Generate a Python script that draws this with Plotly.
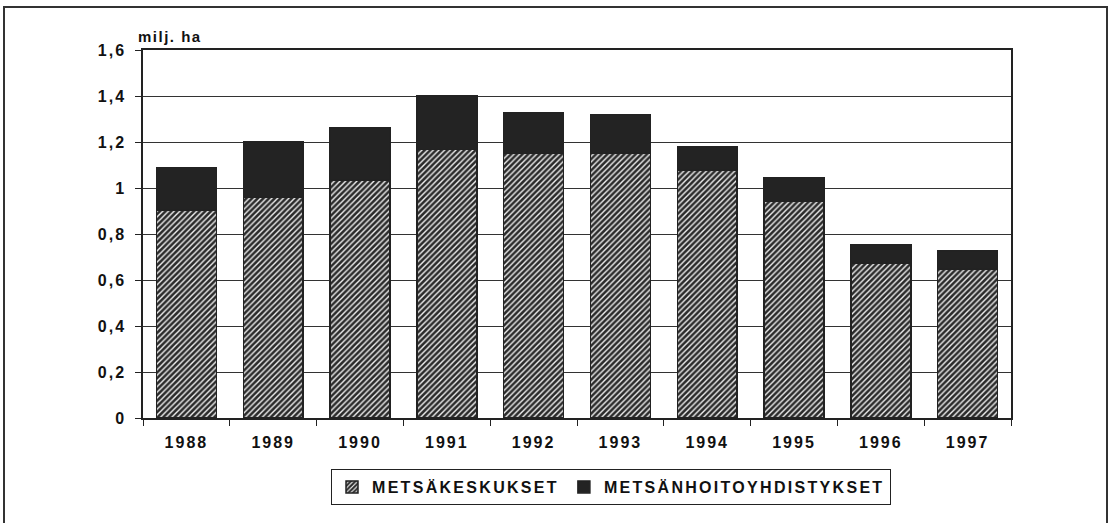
import plotly.graph_objects as go

years = ["1988", "1989", "1990", "1991", "1992", "1993", "1994", "1995", "1996", "1997"]
metsakeskukset = [0.905, 0.96, 1.035, 1.168, 1.151, 1.153, 1.078, 0.943, 0.674, 0.648]
metsanhoitoyhdistykset = [0.185, 0.24, 0.225, 0.232, 0.176, 0.164, 0.10, 0.10, 0.078, 0.078]
series_names = ["METSÄKESKUKSET", "METSÄNHOITOYHDISTYKSET"]
y_ticks = [0, 0.2, 0.4, 0.6, 0.8, 1.0, 1.2, 1.4, 1.6]

FONT = "Liberation Sans, Arial, sans-serif"

fig = go.Figure()
fig.add_trace(go.Bar(
    x=years, y=metsakeskukset, name=series_names[0],
    marker=dict(
        color="#2b2b2b",
        line=dict(color="#222222", width=1.5),
        pattern=dict(shape="/", bgcolor="#2b2b2b", fgcolor="#f0f0f0",
                     size=4, solidity=0.35, fillmode="replace"),
    ),
))
fig.add_trace(go.Bar(
    x=years, y=metsanhoitoyhdistykset, name=series_names[1],
    marker=dict(color="#232323", line=dict(color="#222222", width=1.5)),
))

plot_l, plot_r, plot_t, plot_b = 143, 1011, 50, 418
W, H = 1111, 523
pw, ph = plot_r - plot_l, plot_b - plot_t

def px(x):
    return (x - plot_l) / pw

def py(y):
    return (plot_b - y) / ph

fig.update_layout(
    width=W, height=H,
    margin=dict(l=plot_l, r=W - plot_r, t=plot_t, b=H - plot_b, autoexpand=False),
    barmode="stack", bargap=0.31,
    paper_bgcolor="white", plot_bgcolor="white",
    separators=", ",
    font=dict(family=FONT, size=15, color="#111111"),
    showlegend=True,
    legend=dict(
        orientation="h", x=px(331), xanchor="left", y=py(469), yanchor="top",
        bordercolor="#222222", borderwidth=1, bgcolor="white",
        font=dict(family=FONT, size=16, color="#111111", weight="bold"),
        itemwidth=30, traceorder="normal",
    ),
    xaxis=dict(
        type="category", showline=True, linecolor="#222222", linewidth=1.5,
        mirror=True, ticks="outside", tickson="boundaries", ticklen=6,
        tickcolor="#222222", showgrid=False, ticklabelstandoff=9,
        tickfont=dict(family=FONT, size=16, color="#111111", weight="bold"),
    ),
    yaxis=dict(
        range=[0, 1.6], tickvals=y_ticks, showline=True, linecolor="#222222",
        linewidth=1.5, mirror=True, ticks="outside", ticklen=6,
        tickcolor="#222222", showgrid=True, gridcolor="#333333", gridwidth=1,
        zeroline=False, ticklabelstandoff=6,
        tickfont=dict(family=FONT, size=16, color="#111111", weight="bold"),
    ),
    annotations=[dict(
        text="milj. ha", xref="paper", yref="paper", x=px(142), y=1.0,
        xanchor="left", yanchor="bottom", yshift=3, showarrow=False,
        font=dict(family=FONT, size=15, color="#111111", weight="bold"),
    )],
    shapes=[dict(
        type="rect", xref="paper", yref="paper",
        x0=px(4), x1=px(1107), y0=py(530), y1=py(7),
        line=dict(color="#333333", width=2), layer="below",
    )],
)

post = """
document.body.style.margin = '0';
var st = document.createElement('style');
st.textContent = '.xtick text, .ytick text {letter-spacing: 2px;} .legendtext {letter-spacing: 2.3px;} .annotation-text {letter-spacing: 1.5px;}';
document.head.appendChild(st);
var gd = document.getElementById('{plot_id}');
Plotly.relayout(gd, {'legend.font.size': 16.01});
"""

fig.write_html("out.html", post_script=post, config={"displayModeBar": False})
